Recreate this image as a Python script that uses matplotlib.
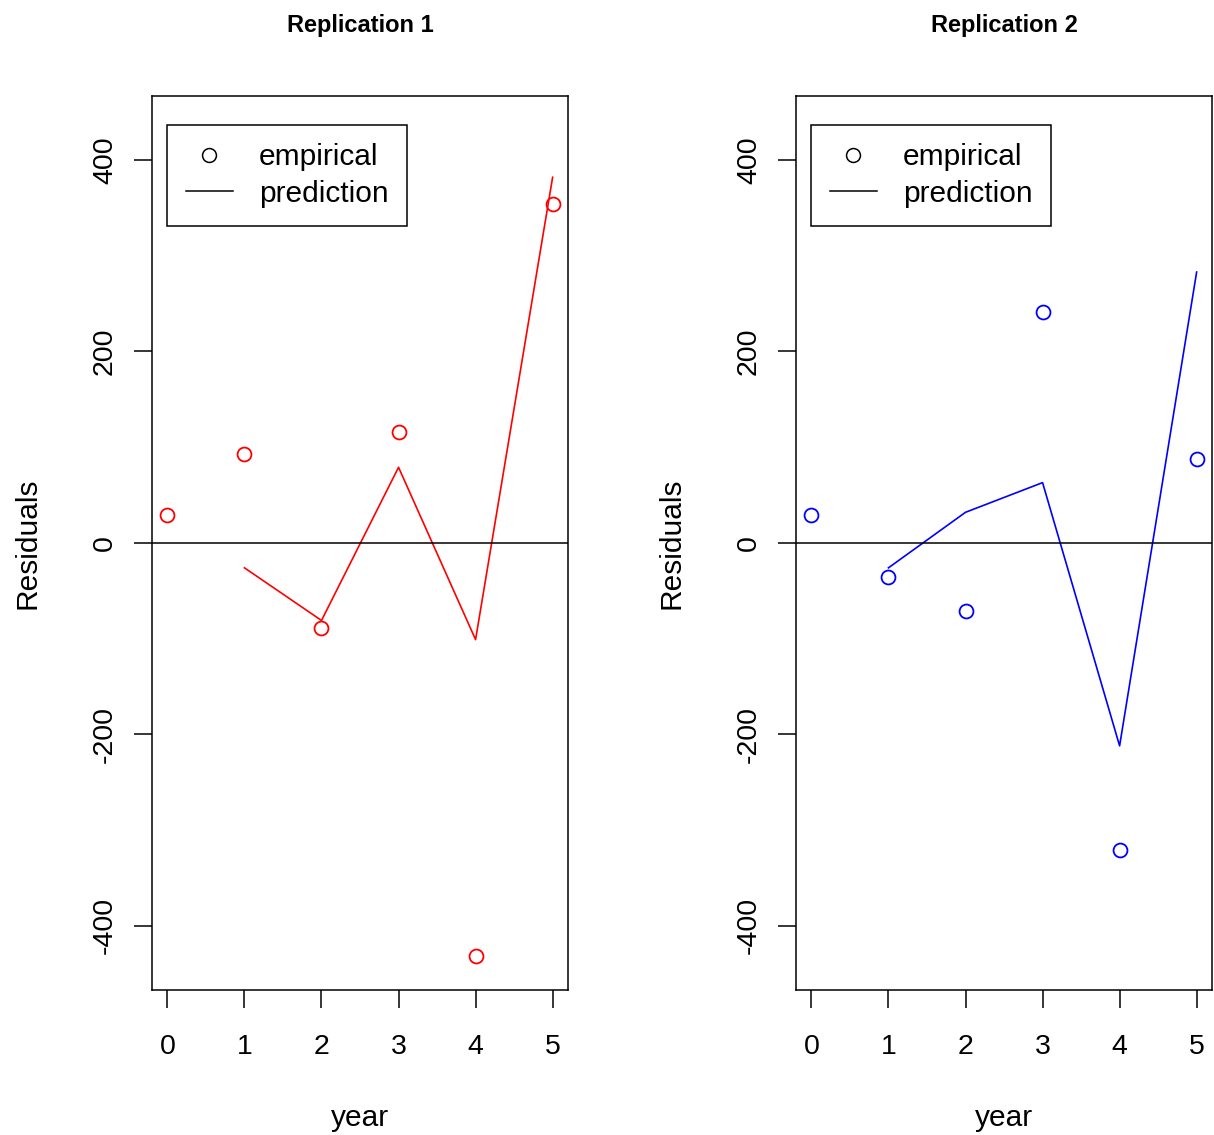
import matplotlib
matplotlib.use("Agg")
import matplotlib.pyplot as plt
from matplotlib.lines import Line2D

plt.rcParams['font.family'] = ['Liberation Sans', 'DejaVu Sans']

# Data
years = [0, 1, 2, 3, 4, 5]
pred_years = [1, 2, 3, 4, 5]

emp_rep1 = [29, 93, -89, 116, -432, 354]
pred_rep1 = [-26, -81, 79, -101, 382]

emp_rep2 = [29, -36, -71, 241, -321, 88]
pred_rep2 = [-26, 32, 63, -212, 283]

titles = ["Replication 1", "Replication 2"]
colors = ["red", "blue"]

fig = plt.figure(figsize=(12.14, 11.35), dpi=100)

panels = [
    (0.1252, emp_rep1, pred_rep1),
    (0.6557, emp_rep2, pred_rep2),
]

for i, (left, emp, pred) in enumerate(panels):
    ax = fig.add_axes([left, 0.1278, 0.3427, 0.7877])
    col = colors[i]
    ax.plot(years, emp, linestyle="none", marker="o", markersize=10,
            markerfacecolor="none", markeredgecolor=col, markeredgewidth=1.3)
    ax.plot(pred_years, pred, color=col, linewidth=1.2)
    ax.axhline(0, color="black", linewidth=1.1)

    ax.set_xlim(-0.2, 5.2)
    ax.set_ylim(-467, 467)
    ax.set_xticks(years)
    ax.set_yticks([-400, -200, 0, 200, 400])
    ax.set_yticklabels(["-400", "-200", "0", "200", "400"], rotation=90, va="center")
    ax.tick_params(direction="out", length=13, width=1.1, labelsize=20.5)
    ax.tick_params(axis="x", pad=18.5)
    ax.tick_params(axis="y", pad=11.5)
    for s in ax.spines.values():
        s.set_linewidth(1.1)

    ax.set_xlabel("year", fontsize=21.5, labelpad=32)
    ax.set_ylabel("Residuals", fontsize=21.5, labelpad=36.5)
    ax.set_title(titles[i], fontsize=17, fontweight="bold", pad=46)

    handles = [
        Line2D([], [], linestyle="none", marker="o", markersize=10,
               markerfacecolor="none", markeredgecolor="black", markeredgewidth=1.1),
        Line2D([], [], color="black", linewidth=1.1),
    ]
    leg = ax.legend(handles, ["empirical", "prediction"], loc="upper left",
                    bbox_to_anchor=(15 / 416, 1 - 29 / 894),
                    fontsize=21.5, fancybox=False, edgecolor="black",
                    framealpha=1, borderaxespad=0, handlelength=1.6,
                    handletextpad=0.85, labelspacing=0.28, borderpad=0.62)
    leg.get_frame().set_linewidth(1.1)

fig.savefig("out.png", dpi=100)
